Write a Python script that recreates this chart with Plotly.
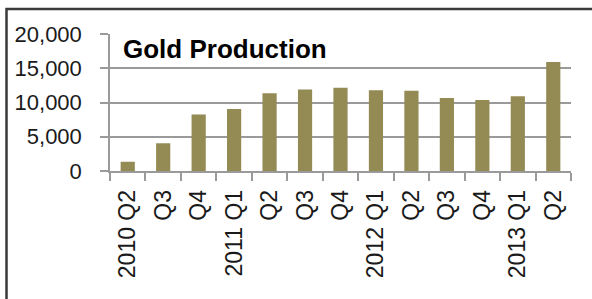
import plotly.graph_objects as go

categories = ["2010 Q2", "2010 Q3", "2010 Q4", "2011 Q1", "2011 Q2", "2011 Q3", "2011 Q4",
              "2012 Q1", "2012 Q2", "2012 Q3", "2012 Q4", "2013 Q1", "2013 Q2"]
tick_labels = ["2010 Q2", "Q3", "Q4", "2011 Q1", "Q2", "Q3", "Q4",
               "2012 Q1", "Q2", "Q3", "Q4", "2013 Q1", "Q2"]
gold_production = [1350, 4050, 8250, 9050, 11350, 11900, 12150,
                   11800, 11700, 10650, 10350, 10900, 15900]
y_ticks = [0, 5000, 10000, 15000, 20000]

W, H = 592, 299
L, R, T, B = 110, 571, 34, 171
pw, ph = R - L, B - T

fig = go.Figure()
fig.add_trace(go.Bar(x=categories, y=gold_production, marker=dict(color="#948a54", line=dict(width=0)),
                     width=0.40))

grid = "#9a9a9a"
fig.update_layout(
    width=W, height=H,
    margin=dict(l=L, r=W - R, t=T, b=H - B),
    paper_bgcolor="white", plot_bgcolor="white",
    showlegend=False,
    font=dict(family="Liberation Sans, Arial, sans-serif", color="#1a1a1a"),
    xaxis=dict(type="category", tickmode="array", tickvals=categories, ticktext=tick_labels,
               tickangle=-90, tickfont=dict(size=23), showgrid=False, automargin=False,
               showline=True, linecolor=grid, linewidth=1.5,
               ticks="outside", tickson="boundaries", ticklen=8, tickcolor=grid, tickwidth=1.5,
               ticklabelstandoff=8, range=[-0.5, len(categories) - 0.5]),
    yaxis=dict(range=[0, 20000], tickmode="array", tickvals=y_ticks, automargin=False,
               ticktext=[f"{v:,}" for v in y_ticks], tickfont=dict(size=22),
               showgrid=True, gridcolor=grid, gridwidth=1.5, zeroline=False,
               showline=True, linecolor=grid, linewidth=1.5,
               ticks="outside", ticklen=8, tickcolor=grid, tickwidth=1.5,
               ticklabelstandoff=14),
)

fig.add_annotation(text="<b>Gold Production</b>", xref="paper", yref="paper",
                   x=(121 - L) / pw, y=(B - 49) / ph, xanchor="left", yanchor="middle",
                   showarrow=False, font=dict(size=26, color="black",
                                              family="Liberation Sans, Arial, sans-serif"))

fig.add_shape(type="rect", xref="paper", yref="paper",
              x0=(6.5 - L) / pw, x1=(620 - L) / pw,
              y0=(B - 330) / ph, y1=1 + (T - 9) / ph,
              line=dict(color="#3a3a3a", width=2.5), fillcolor="rgba(0,0,0,0)", layer="above")

fig.write_html("out.html", config={"displayModeBar": False},
               post_script="document.body.style.margin='0';document.body.style.overflow='hidden';")
